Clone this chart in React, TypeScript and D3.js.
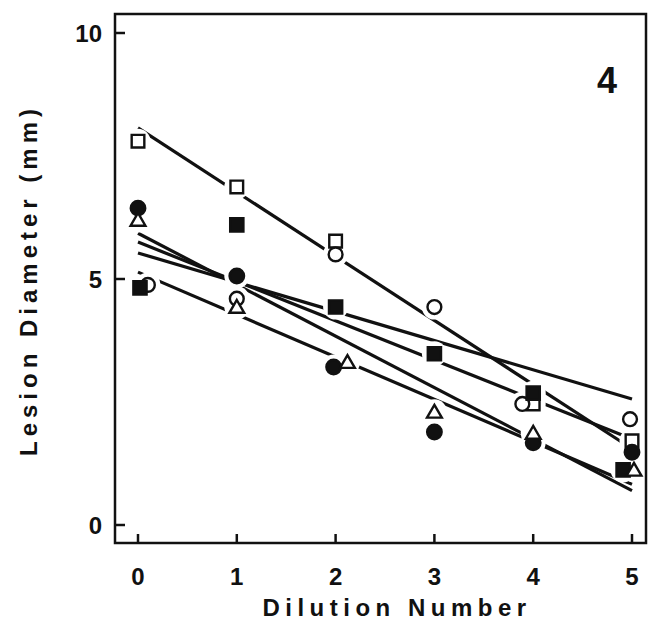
import React from 'react';
import * as d3 from 'd3';

// dilution numbers and the x at which each series' points sit (small offsets as printed)
const dilutions = [0, 1, 2, 3, 4, 5];
const xTicks = [0, 1, 2, 3, 4, 5];
const yTicks = [0, 5, 10];

const openSquareX = [0, 1, 2, 4, 5];
const openSquareY = [7.8, 6.87, 5.77, 2.46, 1.71];
const filledSquareX = [0.02, 1, 2, 3, 4, 4.91];
const filledSquareY = [4.82, 6.1, 4.43, 3.48, 2.68, 1.12];
const openCircleX = [0.1, 1, 2, 3, 3.89, 4.98];
const openCircleY = [4.88, 4.6, 5.5, 4.43, 2.46, 2.15];
const filledCircleX = [0, 1, 1.98, 3, 4, 5];
const filledCircleY = [6.44, 5.06, 3.21, 1.89, 1.67, 1.48];
const triangleX = [0, 1, 2.12, 3, 4, 5.02];
const triangleY = [6.2, 4.43, 3.31, 2.3, 1.87, 1.12];

// fitted lines: value at dilution 0 and at dilution 5
const lineStart = [8.07, 5.53, 5.75, 5.93, 5.14];
const lineEnd = [1.55, 2.56, 1.75, 0.7, 0.83];

const W = 650;
const H = 623;

const x = d3.scaleLinear().domain([0, 5]).range([138, 632]);
const y = d3.scaleLinear().domain([0, 10]).range([525, 33]);

const font = '"Liberation Sans", Arial, Helvetica, sans-serif';

type Series = {
  xs: number[];
  ys: number[];
  shape: d3.SymbolType;
  size: number;
  filled: boolean;
};

const series: Series[] = [
  { xs: openSquareX, ys: openSquareY, shape: d3.symbolSquare, size: 160, filled: false },
  { xs: openCircleX, ys: openCircleY, shape: d3.symbolCircle, size: 150, filled: false },
  { xs: filledSquareX, ys: filledSquareY, shape: d3.symbolSquare, size: 175, filled: true },
  { xs: filledCircleX, ys: filledCircleY, shape: d3.symbolCircle, size: 165, filled: true },
  { xs: triangleX, ys: triangleY, shape: d3.symbolTriangle, size: 95, filled: false },
];

export default function App() {
  const left = 115;
  const right = 646;
  const top = 14;
  const bottom = 543;

  const points = series.flatMap((s, si) =>
    s.xs.map((xv, i) => ({ si, px: x(xv), py: y(s.ys[i]), s }))
  );

  return (
    <svg
      width={W}
      height={H}
      style={{ position: 'absolute', left: 0, top: 0, background: '#fff' }}
      fontFamily={font}
    >
      {/* fitted lines */}
      {lineStart.map((v, i) => (
        <line
          key={'l' + i}
          x1={x(dilutions[0])}
          y1={y(v)}
          x2={x(dilutions[dilutions.length - 1])}
          y2={y(lineEnd[i])}
          stroke="#111"
          strokeWidth={3.2}
        />
      ))}

      {/* white gaps around the symbols */}
      {points.map((p, i) => (
        <circle key={'h' + i} cx={p.px} cy={p.py} r={12.5} fill="#fff" />
      ))}

      {/* symbols */}
      {points.map((p, i) => (
        <path
          key={'p' + i}
          transform={`translate(${p.px},${p.py})${p.s.shape === d3.symbolTriangle ? ' translate(0,1.5)' : ''}`}
          d={d3.symbol().type(p.s.shape).size(p.s.size)() as string}
          fill={p.s.filled ? '#111' : '#fff'}
          stroke="#111"
          strokeWidth={2.4}
        />
      ))}

      {/* frame */}
      <rect
        x={left}
        y={top}
        width={right - left}
        height={bottom - top}
        fill="none"
        stroke="#111"
        strokeWidth={2.5}
      />

      {/* y ticks */}
      {yTicks.map(t => (
        <g key={'y' + t}>
          <line x1={left} x2={left + 10} y1={y(t)} y2={y(t)} stroke="#111" strokeWidth={2.5} />
          <text
            x={102}
            y={y(t)}
            dy="0.36em"
            textAnchor="end"
            fontSize={24}
            fontWeight="bold"
            fill="#111"
          >
            {t}
          </text>
        </g>
      ))}

      {/* x ticks */}
      {xTicks.map(t => (
        <g key={'x' + t}>
          <line x1={x(t)} x2={x(t)} y1={bottom} y2={bottom - 9} stroke="#111" strokeWidth={2.5} />
          <text
            x={x(t)}
            y={585}
            textAnchor="middle"
            fontSize={24}
            fontWeight="bold"
            fill="#111"
          >
            {t}
          </text>
        </g>
      ))}

      {/* panel number */}
      <text x={607} y={93} textAnchor="middle" fontSize={36} fontWeight="bold" fill="#111">
        4
      </text>

      {/* axis titles */}
      <text
        x={397}
        y={616}
        textAnchor="middle"
        fontSize={24}
        fontWeight="bold"
        letterSpacing={5.5}
        fill="#111"
      >
        Dilution Number
      </text>
      <text
        transform="translate(37,280) rotate(-90)"
        textAnchor="middle"
        fontSize={24}
        fontWeight="bold"
        letterSpacing={5}
        fill="#111"
      >
        Lesion Diameter (mm)
      </text>
    </svg>
  );
}
